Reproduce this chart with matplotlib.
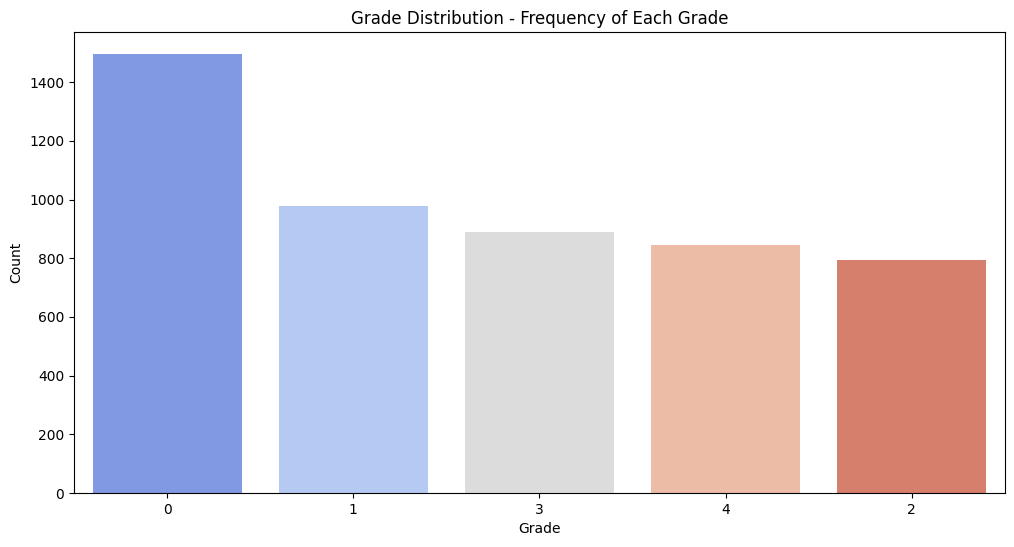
import matplotlib
matplotlib.use("Agg")
import matplotlib.pyplot as plt
import seaborn as sns

grades = ["0", "1", "3", "4", "2"]
counts = [1496, 979, 890, 846, 795]

colors = [sns.desaturate(c, 0.75) for c in sns.color_palette("coolwarm", len(grades))]

fig = plt.figure(figsize=(10.14, 5.47), dpi=100)
ax = fig.add_axes([0.073, 0.0987, 0.918, 0.8428])
ax.bar(grades, counts, color=colors, width=0.8)
ax.set_xlim(-0.5, len(grades) - 0.5)
ax.set_ylim(0, max(counts) * 1.05)
ax.set_title("Grade Distribution - Frequency of Each Grade")
ax.set_xlabel("Grade")
ax.set_ylabel("Count")
fig.savefig("out.png", dpi=100)
